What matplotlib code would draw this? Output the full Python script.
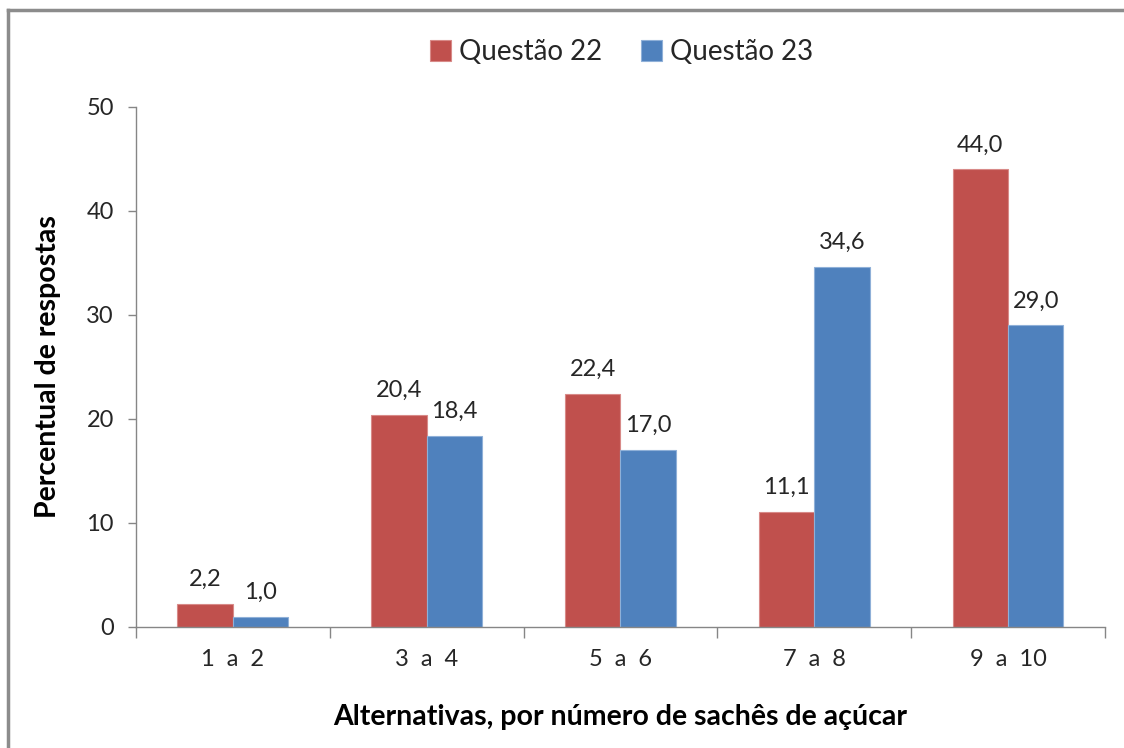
import matplotlib
matplotlib.use("Agg")
import matplotlib.pyplot as plt
from matplotlib.lines import Line2D
import numpy as np

plt.rcParams["font.family"] = ["Lato", "DejaVu Sans"]

# answer shares per alternative (%)
categories = ["1  a  2", "3  a  4", "5  a  6", "7  a  8", "9  a  10"]
q22 = [2.2, 20.4, 22.4, 11.1, 44.0]
q23 = [1.0, 18.4, 17.0, 34.6, 29.0]
series_names = ["Questão 22", "Questão 23"]

red = "#C0504D"
blue = "#4F81BD"
axis_gray = "#868686"
text_col = "#262626"

fig = plt.figure(figsize=(11.24, 7.48), dpi=100)
ax = fig.add_axes([0.121, 0.1618, 0.862, 0.6952])

x = np.arange(len(categories))
w = 0.286
b1 = ax.bar(x - w / 2, q22, w, color=red, edgecolor="#D88A88", linewidth=0.8,
            label=series_names[0])
b2 = ax.bar(x + w / 2, q23, w, color=blue, edgecolor="#8FB0D8", linewidth=0.8,
            label=series_names[1])

def fmt(v):
    return f"{v:.1f}".replace(".", ",")

for bars, vals in [(b1, q22), (b2, q23)]:
    for r, v in zip(bars, vals):
        ax.annotate(fmt(v), (r.get_x() + r.get_width() / 2, v),
                    xytext=(0, 10), textcoords="offset points",
                    ha="center", va="bottom", fontsize=17, color=text_col)

ax.set_xlim(-0.5, len(categories) - 0.5)
ax.set_ylim(0, 50)
ax.set_yticks(range(0, 51, 10))
ax.set_xticks(np.arange(-0.5, len(categories)), minor=False)
ax.set_xticklabels([])
ax.set_xticks(x, minor=True)
ax.set_xticklabels(categories, minor=True)
ax.tick_params(axis="x", which="major", length=8, color=axis_gray, width=1)
ax.tick_params(axis="x", which="minor", length=0, pad=16, labelsize=17,
               labelcolor=text_col)
ax.tick_params(axis="y", length=6, color=axis_gray, width=1, labelsize=17,
               labelcolor=text_col, pad=10)

for s in ["top", "right"]:
    ax.spines[s].set_visible(False)
for s in ["left", "bottom"]:
    ax.spines[s].set_color(axis_gray)
    ax.spines[s].set_linewidth(1)

ax.set_ylabel("Percentual de respostas", fontsize=20.5, fontweight="bold",
              color="black", labelpad=18)
ax.set_xlabel("Alternativas, por número de sachês de açúcar", fontsize=20.5,
              fontweight="bold", color="black", labelpad=24)

fig.legend(handles=[b1, b2], loc="center", bbox_to_anchor=(0.553, 0.930),
           ncol=2, frameon=False, fontsize=20, handlelength=0.75,
           handleheight=0.75, handletextpad=0.3, columnspacing=1.4,
           labelcolor=text_col)

# chart frame (left and top edges)
fig.add_artist(Line2D([0.0068, 0.0068], [0, 0.987], transform=fig.transFigure,
                      color="#8C8C8C", linewidth=2.5))
fig.add_artist(Line2D([0.0068, 1.0], [0.987, 0.987], transform=fig.transFigure,
                      color="#8C8C8C", linewidth=2.5))

fig.savefig("out.png", dpi=100)
